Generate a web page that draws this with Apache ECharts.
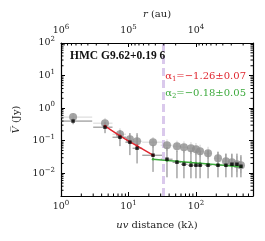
<!DOCTYPE html>
<html><head><meta charset="utf-8">
<script src="https://cdn.jsdelivr.net/npm/echarts@6/dist/echarts.min.js"></script>
<style>html,body{margin:0;padding:0;background:#fff}#c{width:265px;height:241px}</style>
</head><body><div id="c"></div>
<script>
// ---- data ----
const uvDist   = [1.51,4.49,7.48,10.5,13.4,23.1,37.2,52.3,66.4,84.3,100,115,151,212,278,341,405,464];
const binLo    = [0.9,3.0,5.8,9.0,11.5,16,30,45,60,76,93,107,135,190,250,310,375,430];
const binHi    = [2.9,5.8,9.2,12,16,33,45,60,75,93,107,125,170,240,310,375,440,500];
const greyAmp  = [0.53,0.345,0.158,0.111,0.0966,0.090,0.0727,0.0678,0.063,0.0588,0.0548,0.0475,0.0412,0.029,0.0234,0.0218,0.0189,0.0176];
const greyLo   = [0.40,0.24,0.10,0.072,0.062,0.060,0.048,0.045,0.042,0.039,0.036,0.031,0.027,0.018,0.014,0.013,0.011,0.010];
const greyHi   = [0.70,0.50,0.24,0.17,0.15,0.13,0.11,0.10,0.095,0.09,0.085,0.075,0.065,0.048,0.04,0.038,0.034,0.032];
const blackAmp = [0.40,0.26,0.128,0.090,0.0588,0.0358,0.027,0.0218,0.0189,0.0176,0.0176,0.0176,0.0176,0.0176,0.0176,0.0189,0.0189,0.0164];
const blackLo  = [0.32,0.17,0.068,0.036,0.020,0.011,0.0075,0.007,0.007,0.007,0.007,0.007,0.007,0.0075,0.0075,0.0075,0.0075,0.0075];
const blackHi  = [0.49,0.37,0.21,0.17,0.17,0.073,0.063,0.05,0.05,0.05,0.05,0.05,0.05,0.045,0.04,0.04,0.04,0.036];
const redFitX   = [4.49,7.48,10.5,13.4,23.1];
const redFitY   = [0.28,0.141,0.0925,0.0693,0.0358];
const greenFitX = [23.1,37.2,52.3,66.4,84.3,100,115,151,212,278,341,405,464];
const greenFitY = [0.0270,0.0248,0.0232,0.0223,0.0213,0.0207,0.0203,0.0193,0.0181,0.0174,0.0168,0.0163,0.0158];
const uvCut = 32.4;
const xRange = [1, 700];
const yRange = [0.002, 100];
const auPerKlambda = 1e6;   // r (au) = 1e6 / uv (kλ)
const title = 'HMC G9.62+0.19 6';
const alpha1 = ['1', '\u22121.26\u00b10.07'];
const alpha2 = ['2', '\u22120.18\u00b10.05'];

// ---- rendering ----
const FONT = 'DejaVu Serif';
const RED = '#e0262f', GREEN = '#3daa3d';
function pow10Label(v){
  const l = Math.log10(v), e = Math.round(l);
  if (Math.abs(l - e) > 1e-6) return '';
  return '{b|10}{s|' + (e < 0 ? '\u2212' + (-e) : e) + '}';
}
const labelRich = {
  b: {fontFamily: FONT, fontSize: 9.5, color: '#222', lineHeight: 14, verticalAlign: 'middle'},
  s: {fontFamily: FONT, fontSize: 7, color: '#222', lineHeight: 6, verticalAlign: 'top'}
};
const axisBase = {
  type: 'log', logBase: 10,
  axisLine: {show: true, onZero: false, lineStyle: {color: '#000', width: 1.2}},
  axisTick: {show: true, inside: true, length: 4, lineStyle: {color: '#000', width: 1}},
  splitLine: {show: false}, minorTick: {show: false}
};
const nameStyle = {fontFamily: FONT, fontSize: 10, color: '#222',
  rich: {i: {fontFamily: FONT, fontStyle: 'italic', fontSize: 10, color: '#222'}}};
function minorVals(lo, hi){
  const out = [];
  for (let e = Math.floor(Math.log10(lo)); e <= Math.ceil(Math.log10(hi)); e++)
    for (let k = 2; k <= 9; k++){ const v = k * Math.pow(10, e); if (v > lo && v < hi) out.push(v); }
  return out;
}
const ML = 2.5;
function tickLine(x1,y1,x2,y2){ return {type:'line', shape:{x1,y1,x2,y2}, style:{stroke:'#000', lineWidth:1}}; }
function alphaText(idx, col){
  return {text: '{a|\u03b1}{s|' + idx[0] + '}{a|=' + idx[1] + '}', fill: col,
    rich: {a: {fontFamily: FONT, fontSize: 10, fill: col, verticalAlign: 'middle', lineHeight: 14},
           s: {fontFamily: FONT, fontSize: 7, fill: col, verticalAlign: 'bottom', lineHeight: 8}}};
}

const errData = uvDist.map((x,i)=>[x, greyAmp[i], binLo[i], binHi[i], greyLo[i], greyHi[i], 0]).concat(
                uvDist.map((x,i)=>[x, blackAmp[i], binLo[i], binHi[i], blackLo[i], blackHi[i], 1]));

const chart = echarts.init(document.getElementById('c'), null, {renderer: 'canvas'});
chart.setOption({
  animation: false,
  grid: {left: 61, right: 12, top: 43, bottom: 45},
  xAxis: [
    Object.assign({}, axisBase, {
      position: 'bottom', min: xRange[0], max: xRange[1],
      name: '{i|uv} distance (k\u03bb)', nameLocation: 'middle', nameGap: 24, nameTextStyle: nameStyle,
      axisLabel: {formatter: pow10Label, rich: labelRich, margin: 4, showMaxLabel: true}
    }),
    Object.assign({}, axisBase, {
      position: 'top', inverse: true, min: auPerKlambda / xRange[1], max: auPerKlambda / xRange[0],
      name: '{i|r} (au)', nameLocation: 'middle', nameGap: 17, nameTextStyle: nameStyle,
      axisLabel: {formatter: pow10Label, rich: labelRich, margin: 5}
    })
  ],
  yAxis: [
    Object.assign({}, axisBase, {
      position: 'left', min: yRange[0], max: yRange[1],
      name: '{i|V\u0305} (Jy)', nameLocation: 'middle', nameGap: 36, nameTextStyle: nameStyle,
      axisLabel: {formatter: pow10Label, rich: labelRich, margin: 6}
    }),
    Object.assign({}, axisBase, {
      position: 'right', min: yRange[0], max: yRange[1], axisLabel: {show: false}
    })
  ],
  graphic: [
    {type: 'text', left: 70, top: 50, z: 10,
     style: {text: title, font: 'bold 11.5px "Liberation Serif"', fill: '#111'}},
    {type: 'text', right: 19, top: 71, z: 10, style: alphaText(alpha1, RED)},
    {type: 'text', right: 19, top: 88, z: 10, style: alphaText(alpha2, GREEN)}
  ],
  series: [
    { // minor ticks: bottom, left, right
      type: 'custom', xAxisIndex: 0, yAxisIndex: 0, data: [[1, 1]], silent: true, z: 20, clip: false,
      renderItem: function(params, api){
        const cs = params.coordSys, ch = [];
        const bottom = cs.y + cs.height, left = cs.x, right = cs.x + cs.width;
        minorVals(xRange[0], xRange[1]).forEach(v => { const p = api.coord([v, 1]); ch.push(tickLine(p[0], bottom, p[0], bottom - ML)); });
        minorVals(yRange[0], yRange[1]).forEach(v => { const p = api.coord([1, v]);
          ch.push(tickLine(left, p[1], left + ML, p[1])); ch.push(tickLine(right, p[1], right - ML, p[1])); });
        return {type: 'group', children: ch};
      }
    },
    { // minor ticks: top (r axis)
      type: 'custom', xAxisIndex: 1, yAxisIndex: 0, data: [[1e5, 1]], silent: true, z: 20, clip: false,
      renderItem: function(params, api){
        const cs = params.coordSys, ch = [];
        minorVals(auPerKlambda / xRange[1], auPerKlambda / xRange[0]).forEach(v => { const p = api.coord([v, 1]);
          ch.push(tickLine(p[0], cs.y, p[0], cs.y + ML)); });
        return {type: 'group', children: ch};
      }
    },
    { // error bars
      type: 'custom', xAxisIndex: 0, yAxisIndex: 0, data: errData, z: 1, clip: true,
      renderItem: function(params, api){
        const x = api.value(0), y = api.value(1), kind = api.value(6);
        const a = api.coord([api.value(2), y]), b = api.coord([api.value(3), y]);
        const c = api.coord([x, api.value(4)]), d = api.coord([x, api.value(5)]);
        const hcol = kind ? '#808080' : '#d6d6d6', vcol = kind ? '#7a7a7a' : '#cfcfcf';
        return {type: 'group', children: [
          {type: 'line', shape: {x1: a[0], y1: a[1], x2: b[0], y2: b[1]}, style: {stroke: hcol, lineWidth: 1}},
          {type: 'line', shape: {x1: c[0], y1: c[1], x2: d[0], y2: d[1]}, style: {stroke: vcol, lineWidth: 1}}
        ]};
      }
    },
    {
      type: 'scatter', xAxisIndex: 0, yAxisIndex: 0, z: 3, symbol: 'circle', symbolSize: 8,
      itemStyle: {color: '#8e8e8e'},
      data: uvDist.map((x,i)=>[x, greyAmp[i]]),
      markLine: {silent: true, symbol: 'none', label: {show: false}, z: 2,
        lineStyle: {color: '#dac9ec', width: 3, type: [8, 4]}, data: [{xAxis: uvCut}]}
    },
    {
      type: 'line', xAxisIndex: 0, yAxisIndex: 0, z: 4, symbol: 'circle', symbolSize: 2.5,
      lineStyle: {color: RED, width: 1.5}, itemStyle: {color: RED},
      data: redFitX.map((x,i)=>[x, redFitY[i]])
    },
    {
      type: 'line', xAxisIndex: 0, yAxisIndex: 0, z: 4, symbol: 'circle', symbolSize: 2.5,
      lineStyle: {color: GREEN, width: 1.5}, itemStyle: {color: GREEN},
      data: greenFitX.map((x,i)=>[x, greenFitY[i]])
    },
    {
      type: 'scatter', xAxisIndex: 0, yAxisIndex: 0, z: 5, symbol: 'rect', symbolSize: 3.5,
      itemStyle: {color: '#000'},
      data: uvDist.map((x,i)=>[x, blackAmp[i]])
    }
  ]
});
</script></body></html>
